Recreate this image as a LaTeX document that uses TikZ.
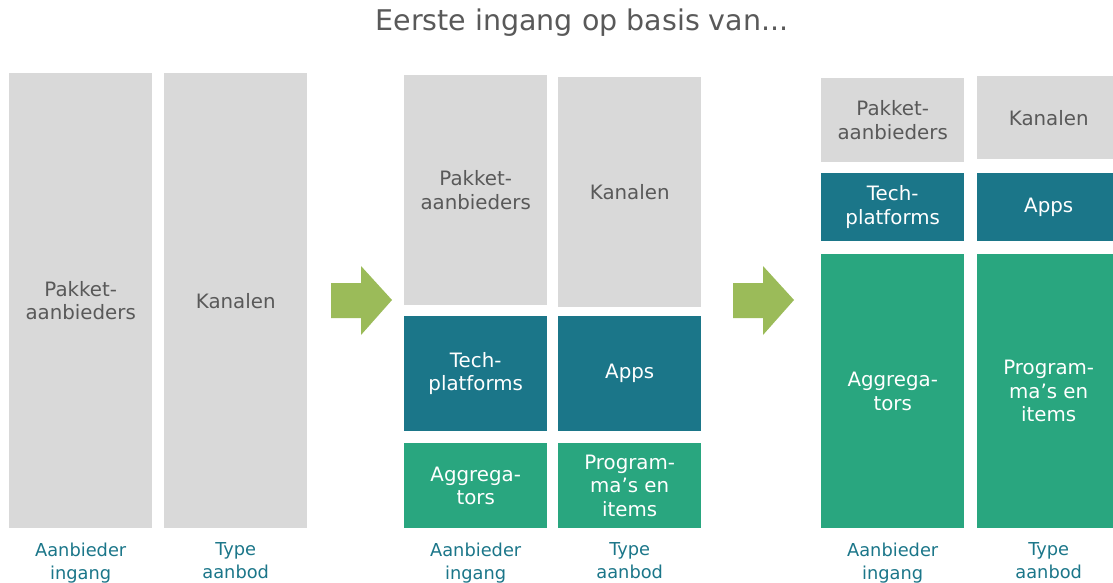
\documentclass[tikz,border=0pt]{standalone}
\usepackage{fontspec}
\setmainfont{DejaVu Sans}
\usetikzlibrary{positioning}
\definecolor{cgrey}{HTML}{D9D9D9}
\definecolor{ctext}{HTML}{595959}
\definecolor{cteal}{HTML}{1B7689}
\definecolor{cgreen}{HTML}{29A67F}
\definecolor{carrow}{HTML}{9BBB59}
\begin{document}
\begin{tikzpicture}[x=1pt,y=-1pt,
  blk/.style={anchor=north west,inner sep=0pt,minimum width=143pt,align=center,
              font=\fontsize{19.8}{23.5}\selectfont},
  greybox/.style={blk,fill=cgrey,text=ctext},
  techbox/.style={blk,fill=cteal,text=white},
  aggbox/.style={blk,fill=cgreen,text=white},
  lab/.style={align=center,text=cteal,font=\fontsize{17.8}{23}\selectfont},
  bigarr/.style={fill=carrow}]
  \useasboundingbox (0,0) rectangle (1113,583);
  \node[font=\fontsize{28.5}{32}\selectfont,text=ctext] (title) at (582,23) {Eerste ingang op basis van...};
  % panel 1
  \node[greybox,minimum height=455pt] (p1a) at (9,73) {Pakket-\\aanbieders};
  \node[greybox,minimum height=455pt] (p1b) at (164,73) {Kanalen};
  % panel 2
  \node[greybox,minimum height=230pt] (p2a) at (404,75) {Pakket-\\aanbieders};
  \node[greybox,minimum height=230pt] (p2b) at (558,77) {Kanalen};
  \node[techbox,minimum height=115pt] (t2a) at (404,316) {Tech-\\platforms};
  \node[techbox,minimum height=115pt] (t2b) at (558,316) {Apps};
  \node[aggbox,minimum height=85pt] (g2a) at (404,443) {Aggrega-\\tors};
  \node[aggbox,minimum height=85pt] (g2b) at (558,443) {Program-\\ma’s en\\items};
  % panel 3
  \node[greybox,minimum height=84pt] (p3a) at (821,78) {Pakket-\\aanbieders};
  \node[greybox,minimum height=83pt] (p3b) at (977,76) {Kanalen};
  \node[techbox,minimum height=68pt] (t3a) at (821,173) {Tech-\\platforms};
  \node[techbox,minimum height=68pt] (t3b) at (977,173) {Apps};
  \node[aggbox,minimum height=274pt] (g3a) at (821,254) {Aggrega-\\tors};
  \node[aggbox,minimum height=274pt] (g3b) at (977,254) {Program-\\ma’s en\\items};
  % column labels
  \foreach \n in {p1a,g2a,g3a}
    \node[lab,below=11pt of \n] (l\n) {Aanbieder\\ingang};
  \foreach \n in {p1b,g2b,g3b}
    \node[lab,below=11pt of \n] (l\n) {Type\\aanbod};
  % arrows between panels
  \foreach \dx in {0,402}
    \fill[bigarr,xshift=\dx] (331,283) -- (361,283) -- (361,266) -- (392,300)
      -- (361,335) -- (361,318) -- (331,318) -- cycle;
\end{tikzpicture}
\end{document}
